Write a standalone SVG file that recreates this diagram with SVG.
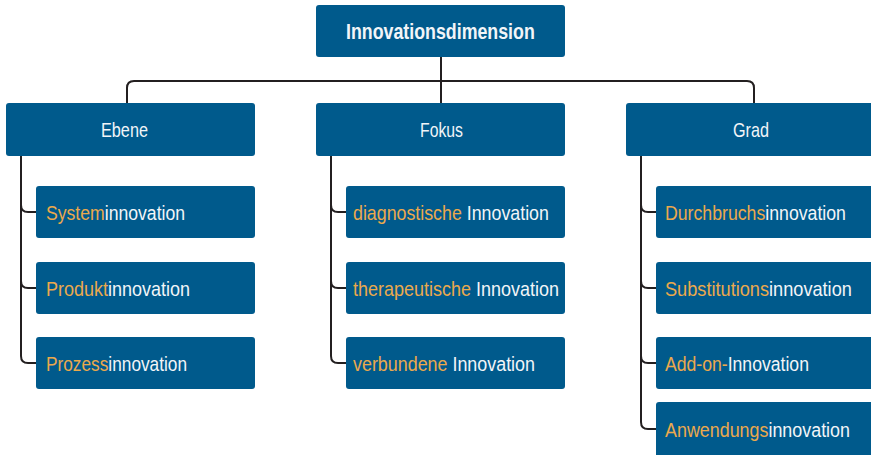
<svg xmlns="http://www.w3.org/2000/svg" width="871" height="455" viewBox="0 0 871 455">
  <style>
    .box { fill: #005a8c; }
    .lbl { font-family: "Liberation Sans", Arial, sans-serif; font-size: 21px; fill: #f2f5f8; }
    .top { font-size: 22px; font-weight: bold; }
    .hl { fill: #eba94c; }
    .wire { fill: none; stroke: #231f20; stroke-width: 2; }
  </style>

  <!-- connectors -->
  <g id="connectors" class="wire">
    <path d="M441 57 V103"/>
    <path d="M127 103 V88 Q127 81 134 81 H747 Q754 81 754 88 V103"/>
    <!-- Ebene branch -->
    <path d="M21 156 V356 Q21 363 28 363 H36"/>
    <path d="M21 205 Q21 212 28 212 H36"/>
    <path d="M21 281 Q21 288 28 288 H36"/>
    <!-- Fokus branch -->
    <path d="M331 156 V356 Q331 363 338 363 H346"/>
    <path d="M331 205 Q331 212 338 212 H346"/>
    <path d="M331 281 Q331 288 338 288 H346"/>
    <!-- Grad branch -->
    <path d="M641 156 V422 Q641 429 648 429 H656"/>
    <path d="M641 205 Q641 212 648 212 H656"/>
    <path d="M641 281 Q641 288 648 288 H656"/>
    <path d="M641 356 Q641 363 648 363 H656"/>
  </g>

  <!-- labels use a horizontal squeeze to get a condensed face -->
  <g id="root">
    <rect class="box" x="316" y="5" width="249" height="52" rx="3"/>
    <text class="lbl top" transform="translate(346 39) scale(0.809 1)">Innovationsdimension</text>
  </g>

  <g id="ebene">
    <rect class="box" x="6" y="103" width="249" height="53" rx="3"/>
    <text class="lbl" transform="translate(101 137) scale(0.774 1)">Ebene</text>
  </g>
  <g id="fokus">
    <rect class="box" x="316" y="103" width="249" height="53" rx="3"/>
    <text class="lbl" transform="translate(420 137) scale(0.752 1)">Fokus</text>
  </g>
  <g id="grad">
    <rect class="box" x="626" y="103" width="255" height="53" rx="3"/>
    <text class="lbl" transform="translate(733 137) scale(0.771 1)">Grad</text>
  </g>

  <g id="systeminnovation">
    <rect class="box" x="36" y="186" width="219" height="52" rx="3"/>
    <text class="lbl" transform="translate(46 220) scale(0.839 1)"><tspan class="hl">System</tspan>innovation</text>
  </g>
  <g id="produktinnovation">
    <rect class="box" x="36" y="262" width="219" height="52" rx="3"/>
    <text class="lbl" transform="translate(46 296) scale(0.857 1)"><tspan class="hl">Produkt</tspan>innovation</text>
  </g>
  <g id="prozessinnovation">
    <rect class="box" x="36" y="337" width="219" height="52" rx="3"/>
    <text class="lbl" transform="translate(46 371) scale(0.822 1)"><tspan class="hl">Prozess</tspan>innovation</text>
  </g>

  <g id="diagnostische">
    <rect class="box" x="346" y="186" width="219" height="52" rx="3"/>
    <text class="lbl" transform="translate(353 220) scale(0.848 1)"><tspan class="hl">diagnostische</tspan> Innovation</text>
  </g>
  <g id="therapeutische">
    <rect class="box" x="346" y="262" width="219" height="52" rx="3"/>
    <text class="lbl" transform="translate(353 296) scale(0.857 1)"><tspan class="hl">therapeutische</tspan> Innovation</text>
  </g>
  <g id="verbundene">
    <rect class="box" x="346" y="337" width="219" height="52" rx="3"/>
    <text class="lbl" transform="translate(353 371) scale(0.852 1)"><tspan class="hl">verbundene</tspan> Innovation</text>
  </g>

  <g id="durchbruchsinnovation">
    <rect class="box" x="656" y="186" width="225" height="52" rx="3"/>
    <text class="lbl" transform="translate(665 220) scale(0.843 1)"><tspan class="hl">Durchbruchs</tspan>innovation</text>
  </g>
  <g id="substitutionsinnovation">
    <rect class="box" x="656" y="262" width="225" height="52" rx="3"/>
    <text class="lbl" transform="translate(665 296) scale(0.866 1)"><tspan class="hl">Substitutions</tspan>innovation</text>
  </g>
  <g id="addon">
    <rect class="box" x="656" y="337" width="225" height="52" rx="3"/>
    <text class="lbl" transform="translate(665 371) scale(0.839 1)"><tspan class="hl">Add-on-</tspan>Innovation</text>
  </g>
  <g id="anwendungsinnovation">
    <rect class="box" x="656" y="402" width="225" height="60" rx="3"/>
    <text class="lbl" transform="translate(665 437) scale(0.852 1)"><tspan class="hl">Anwendungs</tspan>innovation</text>
  </g>
</svg>
